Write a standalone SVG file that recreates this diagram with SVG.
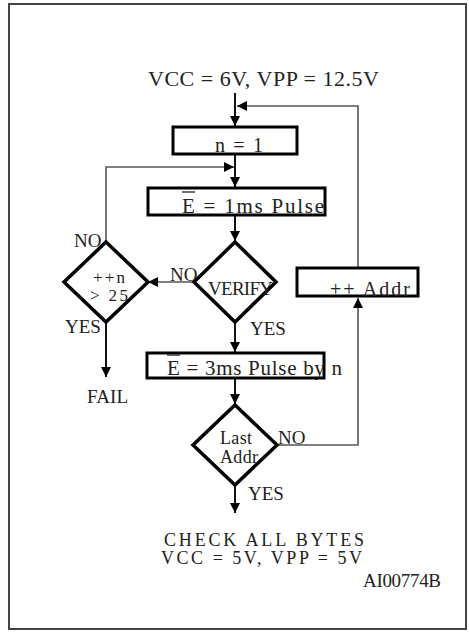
<svg xmlns="http://www.w3.org/2000/svg" width="469" height="634" viewBox="0 0 469 634">
<defs>
<style>
text{font-family:"Liberation Serif","Times New Roman",serif;fill:#222;}
.box{fill:#fff;stroke:#000;stroke-width:3;}
.dia{fill:#fff;stroke:#000;stroke-width:3.5;stroke-linejoin:miter;}
.c{fill:none;stroke:#111;stroke-width:2;}
.g{fill:none;stroke:#555;stroke-width:1.6;}
.ov{stroke:#222;stroke-width:1.3;}
</style>
<marker id="ah" viewBox="0 0 10 10" refX="10" refY="5" markerWidth="10" markerHeight="10" markerUnits="userSpaceOnUse" orient="auto">
<path d="M0,0 L10,5 L0,10 z" fill="#000"/>
</marker>
</defs>
<rect x="9" y="4" width="457" height="625" fill="#fff" stroke="#444" stroke-width="2"/>
<g id="connectors">
<path class="c" d="M235,93 V126" marker-end="url(#ah)"/>
<path class="g" d="M358,267 V106 H237" marker-end="url(#ah)"/>
<path class="c" d="M235,154 V187" marker-end="url(#ah)"/>
<path class="g" d="M106,242 V167 H234" marker-end="url(#ah)"/>
<path class="c" d="M235,215 V241" marker-end="url(#ah)"/>
<path class="g" d="M194,282 H148" marker-end="url(#ah)"/>
<path class="c" d="M235,322 V352" marker-end="url(#ah)"/>
<path class="c" d="M106,322 V377" marker-end="url(#ah)"/>
<path class="c" d="M235,377 V404" marker-end="url(#ah)"/>
<path class="g" d="M277,445 H358 V298" marker-end="url(#ah)"/>
<path class="c" d="M235,485 V513" marker-end="url(#ah)"/>
</g>
<g id="start"><text x="148" y="86" font-size="22" textLength="231">VCC = 6V, VPP = 12.5V</text></g>
<g id="n1">
<rect class="box" x="173" y="127" width="124" height="27"/>
<text x="215" y="152" font-size="20" textLength="48">n = 1</text>
</g>
<g id="pulse1">
<rect class="box" x="148" y="188" width="177" height="27"/>
<text x="182" y="213" font-size="21" textLength="142">E = 1ms Pulse</text>
<line class="ov" x1="182" y1="192" x2="195" y2="192"/>
</g>
<g id="verify">
<path class="dia" d="M235,242 L276,282 L235,322 L194,282 Z"/>
<text x="208" y="295" font-size="19" textLength="65">VERIFY</text>
<text x="170" y="281" font-size="19">NO</text>
<text x="250" y="335" font-size="19">YES</text>
</g>
<g id="incn">
<path class="dia" d="M106,242 L148,282 L106,322 L64,282 Z"/>
<text x="93" y="283" font-size="17" textLength="32">++n</text>
<text x="90" y="301" font-size="17" textLength="38">&gt; 25</text>
<text x="74" y="247" font-size="19">NO</text>
<text x="65" y="333" font-size="19">YES</text>
</g>
<g id="fail"><text x="87" y="403" font-size="19" textLength="41">FAIL</text></g>
<g id="pulse3">
<rect class="box" x="147" y="353" width="177" height="25"/>
<text x="167" y="375" font-size="21" textLength="175">E = 3ms Pulse by n</text>
<line class="ov" x1="167" y1="355" x2="180" y2="355"/>
</g>
<g id="lastaddr">
<path class="dia" d="M235,405 L277,445 L235,485 L193,445 Z"/>
<text x="220" y="444" font-size="18" textLength="32">Last</text>
<text x="220" y="463" font-size="18" textLength="38">Addr</text>
<text x="278" y="444" font-size="19">NO</text>
<text x="248" y="500" font-size="19">YES</text>
</g>
<g id="incaddr">
<rect class="box" x="297" y="268" width="121" height="28"/>
<text x="330" y="296" font-size="20" textLength="80">++ Addr</text>
</g>
<g id="end">
<text x="164" y="546" font-size="18" textLength="200">CHECK ALL BYTES</text>
<text x="161" y="564" font-size="18" textLength="201">VCC = 5V, VPP = 5V</text>
</g>
<g id="label"><text x="363" y="587" font-size="19" textLength="78">AI00774B</text></g>
</svg>
